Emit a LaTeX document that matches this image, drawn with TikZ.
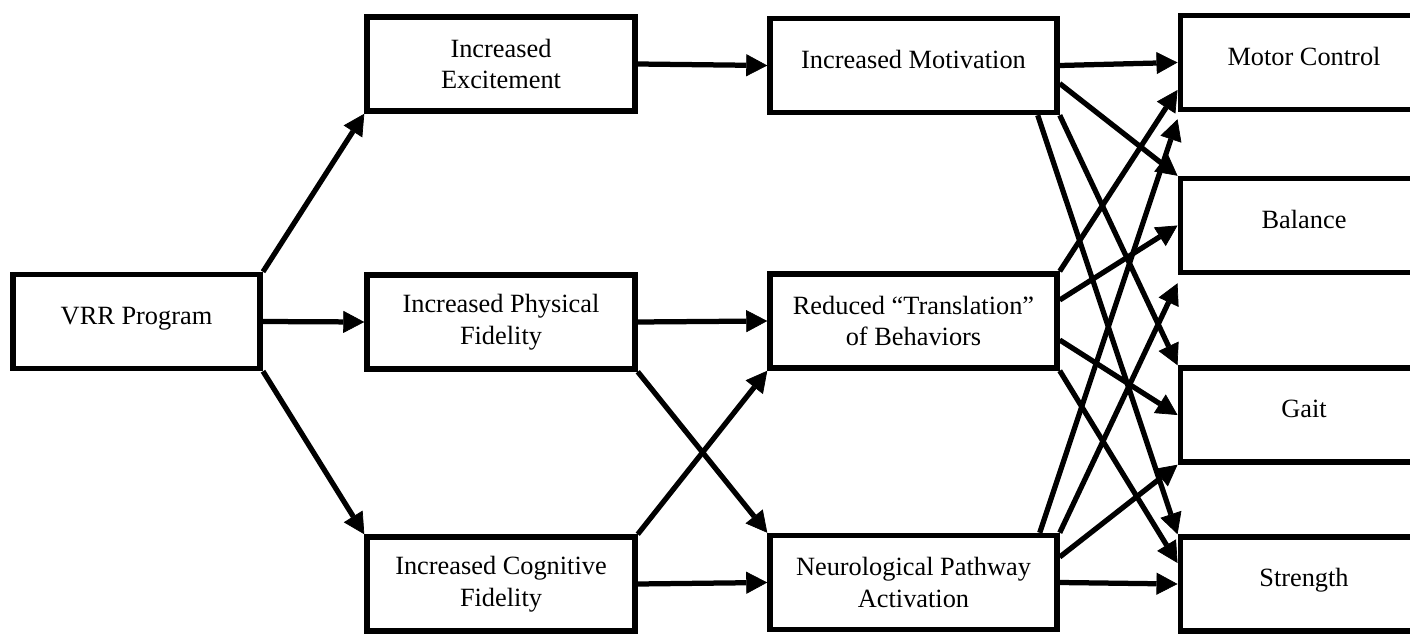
\documentclass[tikz,border=0pt]{standalone}
\usepackage{fontspec}
\setmainfont{Liberation Serif}
\usetikzlibrary{positioning}
\usetikzlibrary{arrows.meta}
\tikzset{
    mybox/.style = {rectangle, draw=black, line width=0.11cm, align=center, minimum height=1.88cm, inner sep=2pt, font=\fontsize{15}{18}\selectfont},
    myboxa/.style = {mybox, minimum width=4.95cm},
    myboxb/.style = {mybox, minimum width=5.36cm},
    myboxc/.style = {mybox, minimum width=5.74cm},
    oneline/.style = {text height=0.35cm, text depth=0.24cm},
    edgen/.style = {-{Triangle[length=0.42cm,width=0.44cm,line width=0.4pt]}, line width=0.105cm}
}

\begin{document}
\begin{tikzpicture}[x=0.02cm, y=-0.02cm]
\useasboundingbox (0,0) rectangle (1410,635);
%
\node[myboxa, oneline] at (136.5, 321.5) (vrr) {VRR Program};
%
\node[myboxb] at (501, 64) (exc) {Increased\\Excitement};
\node[myboxb] at (501, 322) (phy) {Increased Physical\\Fidelity};
\node[myboxb] at (501, 584) (cog) {Increased Cognitive\\Fidelity};
%
\node[myboxc, oneline] at (913.5, 65.5) (mot) {Increased Motivation};
\node[myboxc] at (913.5, 321) (red) {Reduced “Translation”\\of Behaviors};
\node[myboxc] at (913.5, 582.5) (neu) {Neurological Pathway\\Activation};
%
\node[myboxa, oneline] at (1304, 62.5) (mc) {Motor Control};
\node[myboxa, oneline] at (1304, 225.5) (bal) {Balance};
\node[myboxa, oneline] at (1304, 415) (gait) {Gait};
\node[myboxa, oneline] at (1304, 584) (str) {Strength};
%
\draw[edgen] (vrr.north east) -- (exc.south west);
\draw[edgen] (vrr.east) -- (phy.west);
\draw[edgen] (vrr.south east) -- (cog.north west);
%
\draw[edgen] (exc.east) -- (mot.west);
\draw[edgen] (phy.east) -- (red.west);
\draw[edgen] (phy.south east) -- (neu.north west);
\draw[edgen] (cog.north east) -- (red.south west);
\draw[edgen] (cog.east) -- (neu.west);
%
\draw[edgen] (mot.east) -- (mc.west);
\draw[edgen] ([yshift=-0.36cm]mot.east) -- (bal.north west);
\draw[edgen] (mot.south east) -- (gait.north west);
\draw[edgen] ([xshift=-0.44cm]mot.south east) -- (str.north west);
%
\draw[edgen] (red.north east) -- ([yshift=-0.55cm]mc.west);
\draw[edgen] ([yshift=0.42cm]red.east) -- (bal.west);
\draw[edgen] ([yshift=-0.38cm]red.east) -- (gait.west);
\draw[edgen] (red.south east) -- ([yshift=0.42cm]str.west);
%
\draw[edgen] ([xshift=-0.4cm]neu.north east) -- ([yshift=-0.14cm]mc.south west);
\draw[edgen] (neu.north east) -- ([yshift=-0.16cm]bal.south west);
\draw[edgen] ([yshift=0.51cm]neu.east) -- (gait.south west);
\draw[edgen] (neu.east) -- (str.west);

\end{tikzpicture}
\end{document}
